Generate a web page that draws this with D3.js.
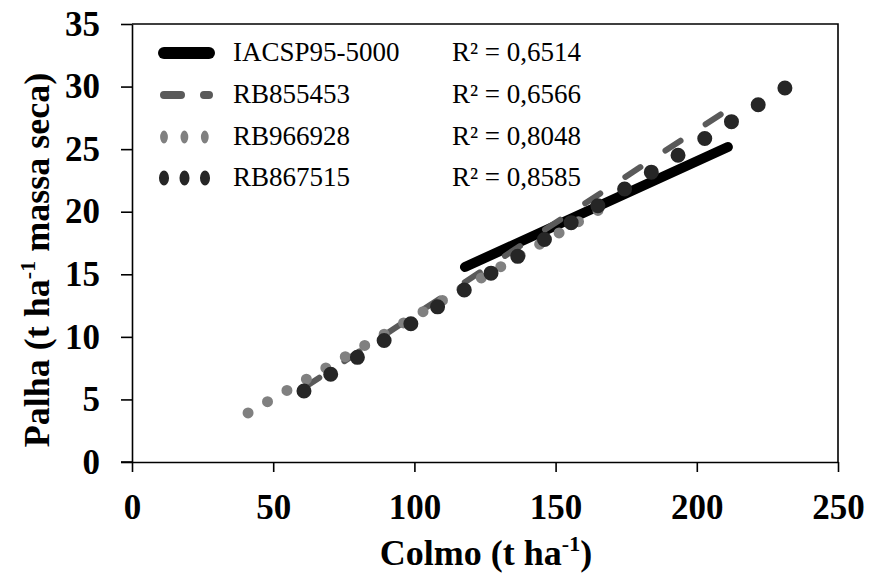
<!DOCTYPE html>
<html>
<head>
<meta charset="utf-8">
<script src="https://cdn.jsdelivr.net/npm/d3@7"></script>
<style>
  html, body { margin: 0; padding: 0; background: #fff; }
  svg { display: block; }
  text { font-family: "Liberation Serif", "Times New Roman", serif; fill: #000; }
</style>
</head>
<body>
<svg id="chart" width="871" height="574"></svg>
<script>
// ---- Data ----
const seriesNames = ["IACSP95-5000", "RB855453", "RB966928", "RB867515"];
const r2Labels = ["R\u00B2 = 0,6514", "R\u00B2 = 0,6566", "R\u00B2 = 0,8048", "R\u00B2 = 0,8585"];
// trend line end points (Colmo, Palha)
const xStart = [117.9, 61.0, 41.1, 60.9];
const yStart = [15.58, 5.95, 3.92, 5.67];
const xEnd   = [211.0, 209.3, 165.0, 231.2];
const yEnd   = [25.17, 27.9, 20.1, 29.89];
const xTicks = [0, 50, 100, 150, 200, 250];
const yTicks = [0, 5, 10, 15, 20, 25, 30, 35];

// ---- Styles ----
// dots: number of dot intervals along the line (round-dot pattern)
const styles = [
  { color: "#000000", width: 10, dash: null,    dots: 0,  legend: { width: 12, dash: null, scaleX: 1 } },
  { color: "#5a5a5a", width: 6,  dash: "18 30", dots: 0,  legend: { width: 8, dash: "17 23", scaleX: 1 } },
  { color: "#808080", width: 11, dash: null,    dots: 18, legend: { width: 13, dash: "0 34", scaleX: 0.6 } },
  { color: "#262626", width: 15, dash: null,    dots: 18, legend: { width: 15, dash: "0 30.6", scaleX: 0.67 } }
];

const svg = d3.select("#chart");
const x = d3.scaleLinear().domain([0, 250]).range([132, 838]);
const y = d3.scaleLinear().domain([0, 35]).range([462, 24]);

// Frame (top and right)
svg.append("path")
  .attr("d", `M${x(0)},${y(35)}H${x(250)}V${y(0)}`)
  .attr("fill", "none").attr("stroke", "#000").attr("stroke-width", 1.6);

// Axes
const xAxis = svg.append("g").attr("transform", `translate(0,${y(0)})`)
  .call(d3.axisBottom(x).tickValues(xTicks).tickSize(10).tickPadding(22).tickSizeOuter(0));
const yAxis = svg.append("g").attr("transform", `translate(${x(0)},0)`)
  .call(d3.axisLeft(y).tickValues(yTicks).tickSize(11).tickPadding(21).tickSizeOuter(0));
[xAxis, yAxis].forEach(a => {
  a.select(".domain").attr("stroke", "#000").attr("stroke-width", 1.6);
  a.selectAll(".tick line").attr("stroke", "#000").attr("stroke-width", 1.6);
  a.selectAll(".tick text")
    .style("font-family", "'Liberation Serif', 'Times New Roman', serif")
    .style("font-weight", "bold").style("font-size", "35px").attr("fill", "#000");
});
svg.append("line").attr("x1", x(0) - 11).attr("x2", x(0)).attr("y1", y(0)).attr("y2", y(0))
  .attr("stroke", "#000").attr("stroke-width", 1.6);

// Trend lines
const lineData = seriesNames.map((name, i) => ({
  name, i,
  pts: [[xStart[i], yStart[i]], [xEnd[i], yEnd[i]]]
}));
const lineGen = d3.line().x(d => x(d[0])).y(d => y(d[1]));
svg.append("g").selectAll("path").data(lineData).join("path")
  .attr("d", d => lineGen(d.pts))
  .attr("fill", "none")
  .attr("stroke", d => styles[d.i].color)
  .attr("stroke-width", d => styles[d.i].width)
  .attr("stroke-linecap", "round")
  .attr("pathLength", d => styles[d.i].dots ? styles[d.i].dots : null)
  .attr("stroke-dasharray", d => styles[d.i].dots ? "0 1" : styles[d.i].dash);

// Legend
const legendY = [53, 95, 137, 178];
const lg = svg.append("g");
seriesNames.forEach((name, i) => {
  const st = styles[i];
  const L = st.legend;
  const x0 = 164, x1 = 209;
  const g = lg.append("g")
    .attr("transform", `translate(${x0},${legendY[i]}) scale(${L.scaleX},1)`);
  g.append("line")
    .attr("x1", 0).attr("x2", (x1 - x0) / L.scaleX)
    .attr("y1", 0).attr("y2", 0)
    .attr("stroke", st.color).attr("stroke-width", L.width)
    .attr("stroke-linecap", "round")
    .attr("stroke-dasharray", L.dash);
  lg.append("text").attr("x", 233).attr("y", legendY[i] + 8)
    .style("font-size", "27px").text(name);
  lg.append("text").attr("x", 452).attr("y", legendY[i] + 8)
    .style("font-size", "27px").text(r2Labels[i]);
});

// Axis titles
const xt = svg.append("text").attr("x", 486).attr("y", 565)
  .attr("text-anchor", "middle")
  .style("font-size", "36px").style("font-weight", "bold");
xt.append("tspan").text("Colmo (t ha");
xt.append("tspan").attr("dy", -14).style("font-size", "22px").text("-1");
xt.append("tspan").attr("dy", 14).text(")");

const yt = svg.append("text")
  .attr("transform", "translate(49,260) rotate(-90)")
  .attr("text-anchor", "middle")
  .style("font-size", "36px").style("font-weight", "bold");
yt.append("tspan").text("Palha (t ha");
yt.append("tspan").attr("dy", -14).style("font-size", "22px").text("-1");
yt.append("tspan").attr("dy", 14).text(" massa seca)");
</script>
</body>
</html>
